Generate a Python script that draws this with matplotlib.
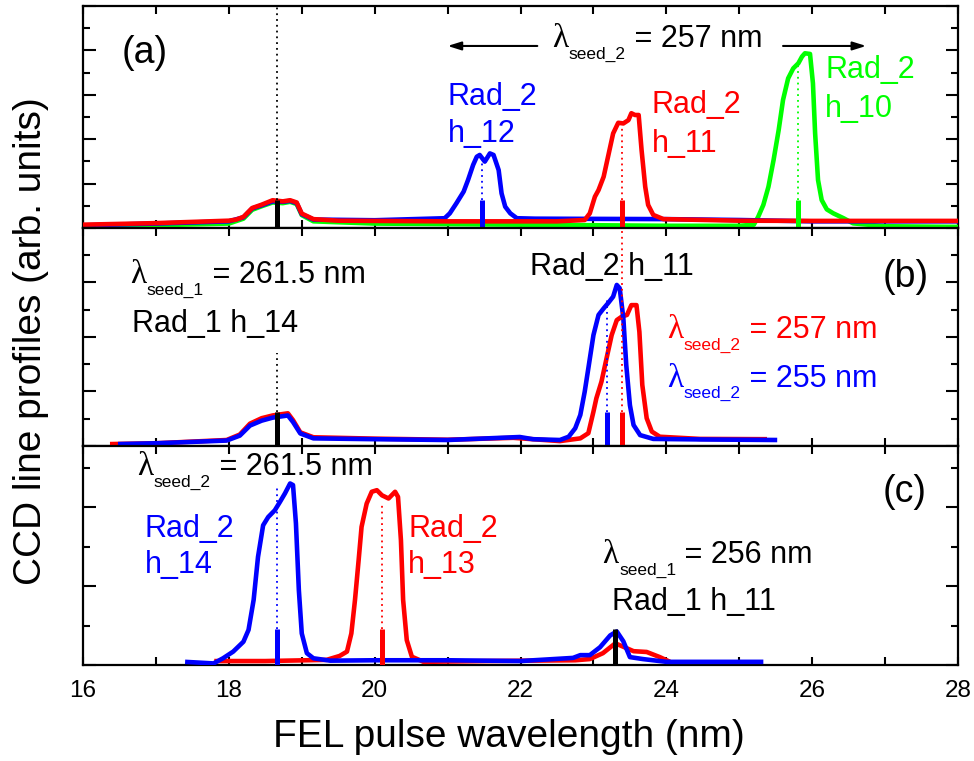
import matplotlib
matplotlib.use("Agg")
import matplotlib.pyplot as plt
from matplotlib.ticker import MultipleLocator

plt.rcParams['font.family'] = ['Liberation Sans', 'DejaVu Sans']

# ---------------- data (wavelength in nm, intensity in arb. units) -------------
# panel (a): lambda_seed_2 = 257 nm, Rad_2 harmonics 12, 11, 10
a_red_x = [16.0, 17.0, 18.0, 18.1, 18.2, 18.32, 18.45, 18.6, 18.74, 18.84, 18.93, 19.0, 19.16, 19.5,
           21.0, 22.5, 22.88, 22.95, 23.02, 23.07, 23.14, 23.20, 23.27, 23.34, 23.41, 23.48,
           23.52, 23.57, 23.62, 23.66, 23.71, 23.75, 23.82, 23.96, 25.0, 26.0, 27.0, 28.0]
a_red_y = [0.15, 0.22, 0.33, 0.38, 0.5, 0.9, 1.05, 1.25, 1.2, 1.25, 1.15, 0.65, 0.4, 0.33,
           0.3, 0.3, 0.36, 0.66, 1.41, 1.71, 2.31, 3.21, 4.26, 4.74, 4.71, 4.86,
           5.17, 5.09, 5.09, 3.51, 1.86, 1.04, 0.59, 0.4, 0.33, 0.32, 0.32, 0.32]
a_blue_x = [16.0, 17.0, 18.0, 18.2, 18.32, 18.45, 18.6, 18.74, 18.84, 18.93, 19.0, 19.16, 20.0,
            20.96, 21.03, 21.12, 21.22, 21.28, 21.35, 21.40, 21.44, 21.51, 21.58, 21.63, 21.70,
            21.74, 21.79, 21.86, 21.95, 22.2, 24.0, 25.0, 26.0, 28.0]
a_blue_y = [0.12, 0.2, 0.3, 0.48, 0.88, 1.02, 1.2, 1.18, 1.22, 1.12, 0.62, 0.38, 0.35,
            0.44, 0.66, 1.11, 1.64, 2.16, 2.84, 3.21, 3.29, 2.99, 3.36, 3.29, 2.61,
            1.56, 0.96, 0.66, 0.44, 0.42, 0.4, 0.36, 0.3, 0.3]
a_green_x = [16.0, 18.0, 18.2, 18.32, 18.45, 18.6, 18.74, 18.84, 18.93, 19.0, 19.16, 20.0, 22.0,
             24.0, 25.0, 25.2, 25.26, 25.33, 25.40, 25.47, 25.54, 25.60, 25.67, 25.74, 25.81,
             25.86, 25.90, 25.97, 26.01, 26.04, 26.08, 26.13, 26.20, 26.29, 26.43, 26.56,
             27.0, 28.0]
a_green_y = [0.05, 0.2, 0.42, 0.82, 0.98, 1.15, 1.12, 1.18, 1.08, 0.58, 0.3, 0.2, 0.15,
             0.1, 0.1, 0.15, 0.51, 1.04, 1.86, 3.06, 4.41, 5.77, 6.74, 7.19, 7.42,
             7.72, 7.87, 7.84, 6.52, 4.26, 2.16, 1.26, 0.84, 0.66, 0.44, 0.21,
             0.08, 0.05]

# panel (b): lambda_seed_1 = 261.5 nm, lambda_seed_2 = 257 / 255 nm
b_red_x = [16.37, 17.0, 17.97, 18.15, 18.29, 18.45, 18.6, 18.81, 18.88, 18.98, 19.16, 20.0, 21.0,
           21.9, 22.54, 22.82, 22.93, 23.00, 23.04, 23.11, 23.18, 23.25, 23.32, 23.39, 23.46,
           23.52, 23.59, 23.63, 23.67, 23.73, 23.80, 23.91, 24.46, 25.38]
b_red_y = [0.07, 0.1, 0.22, 0.42, 0.82, 1.02, 1.12, 1.2, 0.95, 0.5, 0.32, 0.27, 0.23,
           0.3, 0.18, 0.28, 0.47, 1.26, 1.75, 2.36, 3.22, 4.07, 4.62, 4.75, 4.81,
           5.17, 5.17, 4.19, 2.24, 1.02, 0.53, 0.34, 0.26, 0.25]
b_blue_x = [16.48, 17.0, 17.97, 18.15, 18.29, 18.45, 18.6, 18.81, 18.88, 18.98, 19.16, 20.0, 21.0,
            21.72, 21.99, 22.17, 22.54, 22.66, 22.75, 22.82, 22.88, 22.93, 23.00, 23.07, 23.14,
            23.20, 23.27, 23.32, 23.36, 23.41, 23.45, 23.50, 23.55, 23.64, 23.82, 24.5, 25.52]
b_blue_y = [0.07, 0.1, 0.2, 0.38, 0.75, 0.93, 1.04, 1.12, 0.88, 0.46, 0.28, 0.25, 0.22,
            0.3, 0.33, 0.25, 0.22, 0.34, 0.65, 1.14, 1.99, 2.85, 4.07, 4.81, 5.05,
            5.24, 5.48, 5.91, 5.79, 4.69, 2.97, 1.50, 0.77, 0.40, 0.26, 0.24, 0.22]

# panel (c): lambda_seed_2 = 261.5 nm, lambda_seed_1 = 256 nm
c_red_x = [17.8, 18.5, 19.34, 19.52, 19.62, 19.68, 19.73, 19.78, 19.82, 19.89, 19.96, 20.03,
           20.10, 20.19, 20.28, 20.32, 20.36, 20.39, 20.44, 20.51, 20.67, 21.5, 22.75, 22.95,
           23.13, 23.30, 23.55, 23.73, 23.91, 24.05]
c_red_y = [0.1, 0.1, 0.13, 0.23, 0.34, 0.80, 1.65, 2.66, 3.50, 4.09, 4.39, 4.43,
           4.30, 4.22, 4.39, 4.26, 3.16, 1.65, 0.63, 0.21, 0.08, 0.1, 0.12, 0.15,
           0.3, 0.55, 0.35, 0.33, 0.2, 0.08]
c_blue_x = [17.40, 17.79, 17.92, 18.06, 18.20, 18.27, 18.34, 18.40, 18.47, 18.54, 18.63, 18.70,
            18.77, 18.84, 18.88, 18.92, 18.96, 19.00, 19.07, 19.16, 19.39, 20.0, 21.0, 22.0,
            22.72, 22.82, 22.95, 23.09, 23.23, 23.32, 23.41, 23.5, 23.68, 24.0, 25.33]
c_blue_y = [0.08, 0.04, 0.17, 0.34, 0.59, 0.89, 1.65, 2.74, 3.54, 3.75, 3.92, 4.13,
            4.35, 4.60, 4.56, 3.59, 1.90, 0.80, 0.30, 0.17, 0.11, 0.12, 0.12, 0.1,
            0.18, 0.25, 0.25, 0.45, 0.75, 0.85, 0.6, 0.2, 0.15, 0.08, 0.08]

# expected harmonic wavelengths (nm)
a_marks = [18.66, 21.47, 23.39, 25.80]
b_marks = [18.66, 23.19, 23.39]
c_marks = [18.66, 20.10, 23.30]

x_ticks = [16, 18, 20, 22, 24, 26, 28]

BLUE, RED, GREEN, BLACK = '#0000ff', '#ff0000', '#00ff00', '#000000'

# ---------------- figure ----------------
fig = plt.figure(figsize=(9.74, 7.61), dpi=100)
L, W = 0.08522, 0.8984
axA = fig.add_axes([L, 0.70039, W, 0.29172])
axB = fig.add_axes([L, 0.41393, W, 0.28647])
axC = fig.add_axes([L, 0.12615, W, 0.28778])

for ax, ylim in ((axA, 10), (axB, 8), (axC, 5.55)):
    ax.set_xlim(16, 28)
    ax.set_ylim(0, ylim)
    ax.xaxis.set_major_locator(MultipleLocator(2))
    ax.xaxis.set_minor_locator(MultipleLocator(1))
    ax.yaxis.set_major_locator(MultipleLocator(2))
    ax.yaxis.set_minor_locator(MultipleLocator(1))
    ax.tick_params(axis='x', which='both', direction='in', top=True, bottom=True,
                   length=5.5, width=1.5)
    ax.tick_params(axis='y', which='major', direction='in', left=True, right=True,
                   length=9, width=1.5, labelleft=False)
    ax.tick_params(axis='y', which='minor', direction='in', left=True, right=True,
                   length=5, width=1.5)
    for s in ax.spines.values():
        s.set_linewidth(1.6)
    if ax is not axC:
        ax.tick_params(axis='x', labelbottom=False)

axC.set_xticks(x_ticks)
axC.set_xticklabels([str(t) for t in x_ticks])
axC.tick_params(axis='x', which='major', labelsize=17.5, pad=11)

LW = 3.3
kw = dict(lw=LW, solid_joinstyle='round', solid_capstyle='butt', zorder=3)

# panel (a)
axA.plot(a_green_x, a_green_y, color=GREEN, **kw)
axA.plot(a_blue_x, a_blue_y, color=BLUE, **kw)
axA.plot(a_red_x, a_red_y, color=RED, **kw)
# panel (b)
axB.plot(b_red_x, b_red_y, color=RED, **kw)
axB.plot(b_blue_x, b_blue_y, color=BLUE, **kw)
# panel (c)
axC.plot(c_red_x, c_red_y, color=RED, **kw)
axC.plot(c_blue_x, c_blue_y, color=BLUE, **kw)

# markers and guide lines
mk = dict(lw=3.6, zorder=5)
dt = dict(linestyles=(0, (1, 2.2)), lw=1.3, zorder=4)
# (a)
axA.vlines(a_marks[0], 0, 1.27, color=BLACK, **mk)
axA.vlines(a_marks[0], 1.27, 10, color=BLACK, **dt)
axA.vlines(a_marks[1], 0, 1.27, color=BLUE, **mk)
axA.vlines(a_marks[1], 1.27, 3.2, color=BLUE, **dt)
axA.vlines(a_marks[2], 0, 1.27, color=RED, **mk)
axA.vlines(a_marks[2], 1.27, 4.8, color=RED, **dt)
axA.vlines(a_marks[3], 0, 1.27, color=GREEN, **mk)
axA.vlines(a_marks[3], 1.27, 7.3, color=GREEN, **dt)
# (b)
axB.vlines(b_marks[0], 0, 1.25, color=BLACK, **mk)
axB.vlines(b_marks[0], 1.25, 3.4, color=BLACK, **dt)
axB.vlines(b_marks[1], 0, 1.25, color=BLUE, **mk)
axB.vlines(b_marks[1], 1.25, 5.45, color=BLUE, **dt)
axB.vlines(b_marks[2], 0, 1.25, color=RED, **mk)
axB.vlines(b_marks[2], 1.25, 8, color=RED, **dt)
# (c)
axC.vlines(c_marks[0], 0, 0.9, color=BLUE, **mk)
axC.vlines(c_marks[0], 0.9, 4.5, color=BLUE, **dt)
axC.vlines(c_marks[1], 0, 0.9, color=RED, **mk)
axC.vlines(c_marks[1], 0.9, 4.1, color=RED, **dt)
axC.vlines(c_marks[2], 0, 0.9, color=BLACK, **mk)

FS = 22


def lam_text(ax, x, y, sub, rest, color):
    t1 = ax.text(x, y, 'λ', fontsize=FS + 2, color=color, va='baseline', ha='left',
                 family=['Liberation Serif', 'DejaVu Serif'])
    t2 = ax.annotate(sub, xy=(1, 0), xycoords=t1, xytext=(0.5, -3.2),
                     textcoords='offset points', fontsize=12.5, color=color,
                     va='baseline', ha='left')
    ax.annotate(rest, xy=(1, y), xycoords=(t2, 'data'), fontsize=FS, color=color,
                va='baseline', ha='left')


def txt(ax, x, y, s, color=BLACK, fs=FS):
    ax.text(x, y, s, fontsize=fs, color=color, va='baseline', ha='left')


# panel (a) texts
txt(axA, 16.53, 7.43, '(a)', fs=27)
lam_text(axA, 22.43, 8.15, 'seed_2', ' = 257 nm', BLACK)
arr = dict(arrowstyle='-|>,head_length=0.8,head_width=0.25', color=BLACK, lw=1.5,
           shrinkA=0, shrinkB=0)
axA.annotate('', xy=(21.0, 8.2), xytext=(22.23, 8.2), arrowprops=arr)
axA.annotate('', xy=(26.74, 8.2), xytext=(25.6, 8.2), arrowprops=arr)
txt(axA, 21.0, 5.54, 'Rad_2', BLUE)
txt(axA, 21.0, 3.87, 'h_12', BLUE)
txt(axA, 23.80, 5.18, 'Rad_2', RED)
txt(axA, 23.80, 3.42, 'h_11', RED)
txt(axA, 26.18, 6.76, 'Rad_2', GREEN)
txt(axA, 26.18, 5.0, 'h_10', GREEN)

# panel (b) texts
lam_text(axB, 16.64, 5.98, 'seed_1', ' = 261.5 nm', BLACK)
txt(axB, 16.67, 4.18, 'Rad_1 h_14')
txt(axB, 22.13, 6.28, 'Rad_2 h_11')
txt(axB, 26.97, 5.83, '(b)', fs=27)
lam_text(axB, 24.01, 3.96, 'seed_2', ' = 257 nm', RED)
lam_text(axB, 24.01, 2.17, 'seed_2', ' = 255 nm', BLUE)

# panel (c) texts
lam_text(axC, 16.74, 4.81, 'seed_2', ' = 261.5 nm', BLACK)
txt(axC, 16.85, 3.24, 'Rad_2', BLUE)
txt(axC, 16.85, 2.33, 'h_14', BLUE)
txt(axC, 20.46, 3.24, 'Rad_2', RED)
txt(axC, 20.46, 2.33, 'h_13', RED)
txt(axC, 26.97, 4.13, '(c)', fs=27)
lam_text(axC, 23.12, 2.58, 'seed_1', ' = 256 nm', BLACK)
txt(axC, 23.25, 1.39, 'Rad_1 h_11')

fig.text(509 / 974, 1 - 747 / 761, 'FEL pulse wavelength (nm)', fontsize=28,
         ha='center', va='baseline')
fig.text(31 / 974, 1 - 341 / 761, 'CCD line profiles (arb. units)', fontsize=28,
         ha='center', va='center', rotation=90)

fig.savefig('out.png', dpi=100)
